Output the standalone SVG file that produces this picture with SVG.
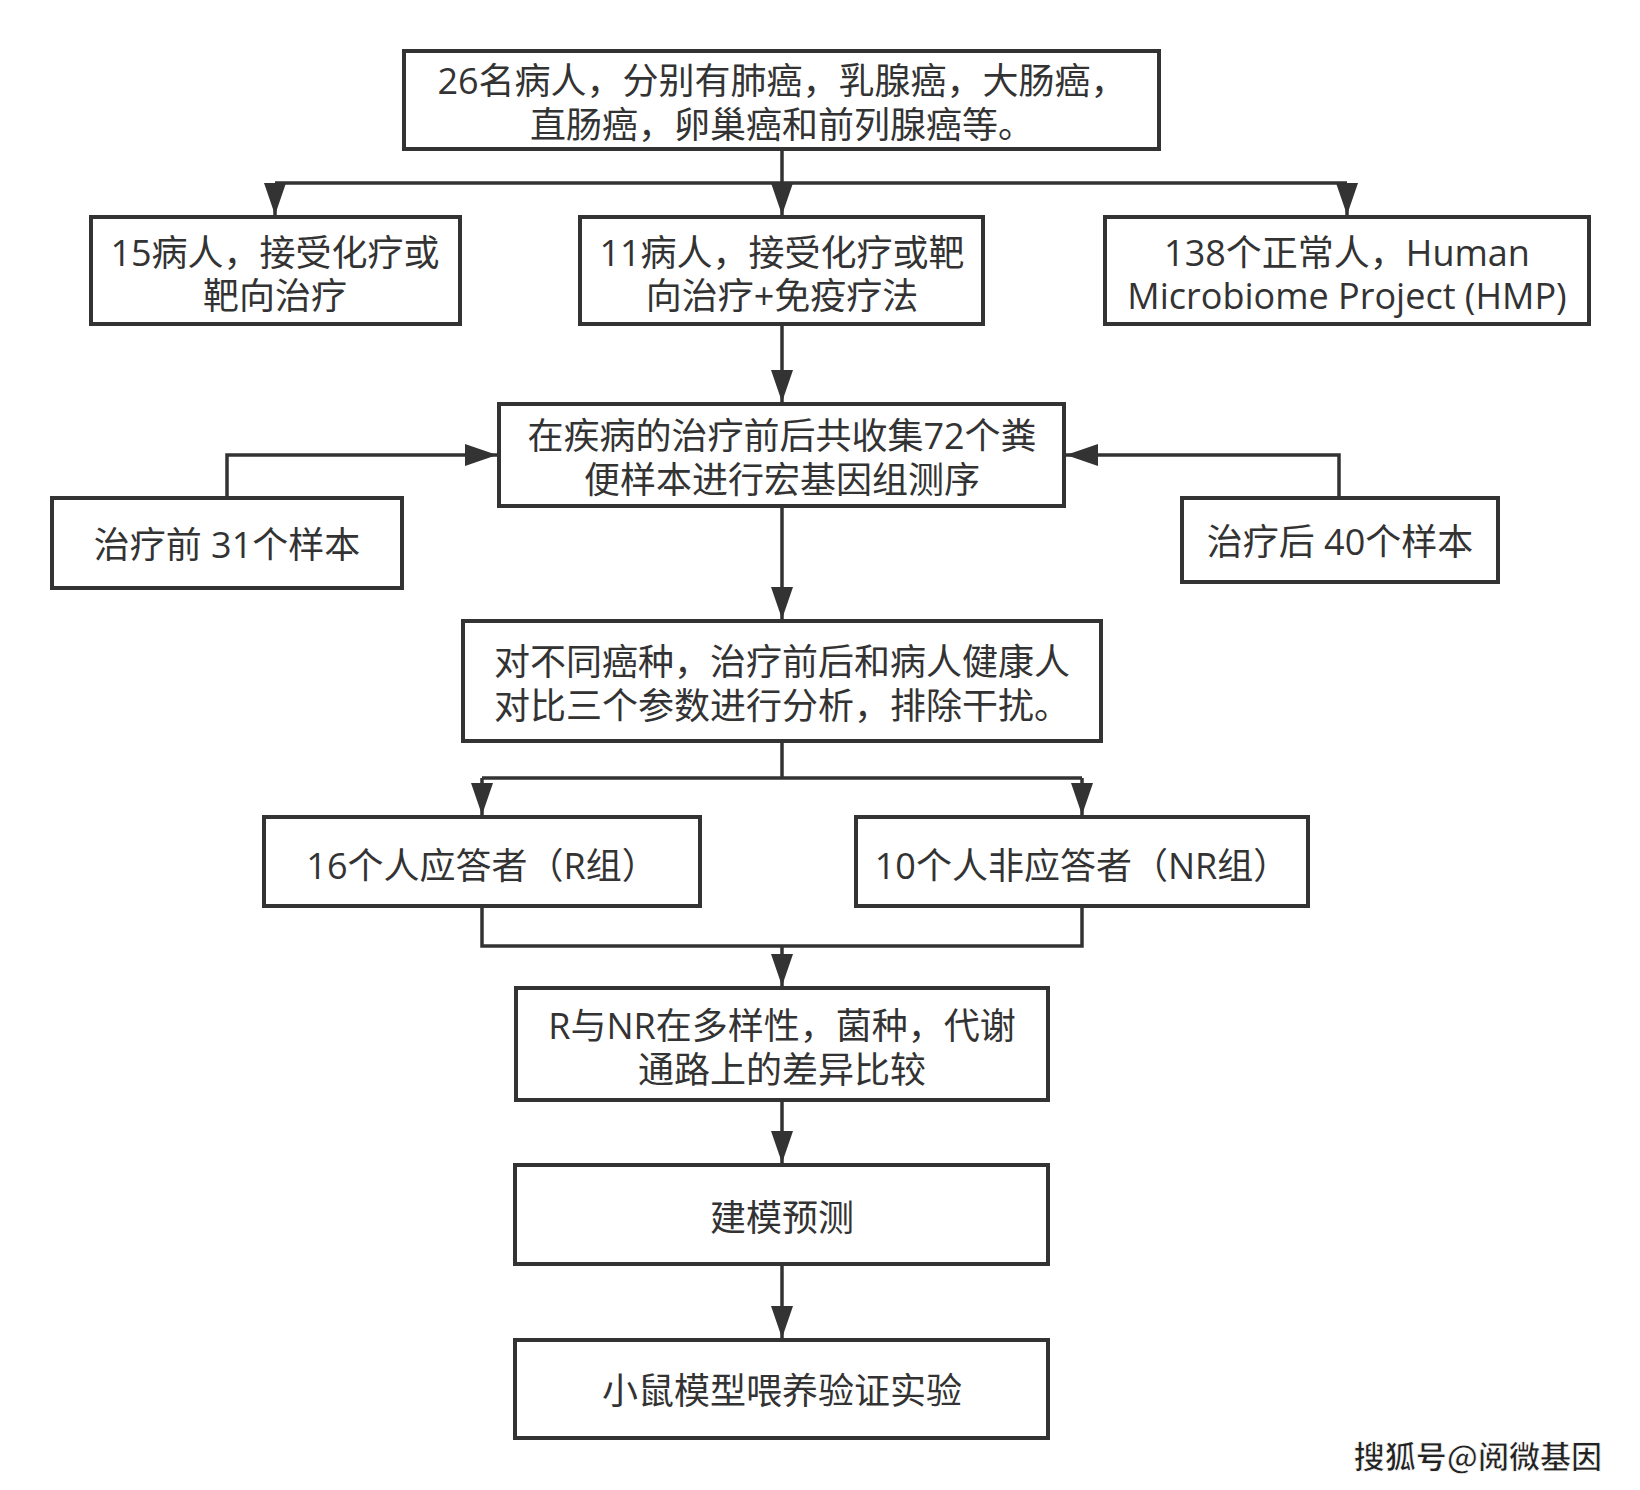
<svg xmlns="http://www.w3.org/2000/svg" width="1640" height="1490" viewBox="0 0 1640 1490">
<style>
.box{fill:#fff;stroke:#333;stroke-width:4}
.t{font-family:"Open Sans","Noto Sans CJK SC",sans-serif;font-size:36px;fill:#333;text-anchor:middle}
.c{fill:none;stroke:#333;stroke-width:3.5}
.wm{font-family:"Noto Sans CJK SC",sans-serif;font-size:31px;font-weight:bold;fill:#222;stroke:#fff;stroke-width:0.8;text-anchor:end}
</style>
<defs>
<marker id="ah" markerUnits="userSpaceOnUse" markerWidth="32" markerHeight="24" viewBox="0 0 32 24" refX="32" refY="12" orient="auto">
<path d="M0,1 L32,12 L0,23 Z" fill="#333"/>
</marker>
</defs>
<rect width="1640" height="1490" fill="#fff"/>
<g id="connectors">
<path class="c" d="M782,151 V183"/>
<path class="c" d="M275,183 H1347"/>
<path class="c" d="M275,183 V215" marker-end="url(#ah)"/>
<path class="c" d="M782,183 V215" marker-end="url(#ah)"/>
<path class="c" d="M1347,183 V215" marker-end="url(#ah)"/>
<path class="c" d="M782,326 V402" marker-end="url(#ah)"/>
<path class="c" d="M227,496 V455 H497" marker-end="url(#ah)"/>
<path class="c" d="M1339,496 V455 H1066" marker-end="url(#ah)"/>
<path class="c" d="M782,508 V619" marker-end="url(#ah)"/>
<path class="c" d="M782,743 V778"/>
<path class="c" d="M482,778 H1082"/>
<path class="c" d="M482,778 V815" marker-end="url(#ah)"/>
<path class="c" d="M1082,778 V815" marker-end="url(#ah)"/>
<path class="c" d="M482,908 V946 H1082 V908"/>
<path class="c" d="M782,946 V986" marker-end="url(#ah)"/>
<path class="c" d="M782,1102 V1163" marker-end="url(#ah)"/>
<path class="c" d="M782,1266 V1338" marker-end="url(#ah)"/>
</g>
<g id="n-top">
<rect class="box" x="404" y="51" width="755" height="98"/>
<text class="t"><tspan x="782" y="94">26名病人，分别有肺癌，乳腺癌，大肠癌，</tspan><tspan x="782" y="138">直肠癌，卵巢癌和前列腺癌等。</tspan></text>
</g>
<g id="n-a">
<rect class="box" x="91" y="217" width="369" height="107"/>
<text class="t"><tspan x="275" y="266">15病人，接受化疗或</tspan><tspan x="275" y="309">靶向治疗</tspan></text>
</g>
<g id="n-b">
<rect class="box" x="580" y="217" width="403" height="107"/>
<text class="t"><tspan x="782" y="266">11病人，接受化疗或靶</tspan><tspan x="782" y="309">向治疗+免疫疗法</tspan></text>
</g>
<g id="n-c">
<rect class="box" x="1105" y="217" width="484" height="107"/>
<text class="t"><tspan x="1347" y="266">138个正常人，Human</tspan><tspan x="1347" y="309">Microbiome Project (HMP)</tspan></text>
</g>
<g id="n-d">
<rect class="box" x="499" y="404" width="565" height="102"/>
<text class="t"><tspan x="782" y="449">在疾病的治疗前后共收集72个粪</tspan><tspan x="782" y="493">便样本进行宏基因组测序</tspan></text>
</g>
<g id="n-e">
<rect class="box" x="52" y="498" width="350" height="90"/>
<text class="t" x="227" y="558">治疗前 31个样本</text>
</g>
<g id="n-f">
<rect class="box" x="1182" y="498" width="316" height="84"/>
<text class="t" x="1340" y="555">治疗后 40个样本</text>
</g>
<g id="n-g">
<rect class="box" x="463" y="621" width="638" height="120"/>
<text class="t"><tspan x="782" y="675">对不同癌种，治疗前后和病人健康人</tspan><tspan x="782" y="719">对比三个参数进行分析，排除干扰。</tspan></text>
</g>
<g id="n-h">
<rect class="box" x="264" y="817" width="436" height="89"/>
<text class="t" x="482" y="879">16个人应答者（R组）</text>
</g>
<g id="n-i">
<rect class="box" x="856" y="817" width="452" height="89"/>
<text class="t" x="1082" y="879">10个人非应答者（NR组）</text>
</g>
<g id="n-j">
<rect class="box" x="516" y="988" width="532" height="112"/>
<text class="t"><tspan x="782" y="1039">R与NR在多样性，菌种，代谢</tspan><tspan x="782" y="1083">通路上的差异比较</tspan></text>
</g>
<g id="n-k">
<rect class="box" x="515" y="1165" width="533" height="99"/>
<text class="t" x="782" y="1231">建模预测</text>
</g>
<g id="n-l">
<rect class="box" x="515" y="1340" width="533" height="98"/>
<text class="t" x="782" y="1404">小鼠模型喂养验证实验</text>
</g>
<text class="wm" x="1602" y="1468">搜狐号@阅微基因</text>
</svg>
